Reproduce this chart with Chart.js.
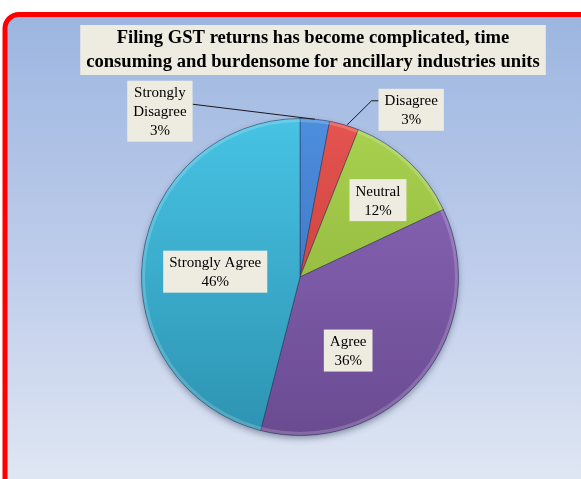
<!DOCTYPE html>
<html>
<head>
<meta charset="utf-8">
<script src="https://cdn.jsdelivr.net/npm/chart.js@4/dist/chart.umd.min.js"></script>
<style>
  body { margin: 0; background: #ffffff; }
  #wrap { width: 581px; height: 479px; }
</style>
</head>
<body>
<div id="wrap"><canvas id="myChart" width="581" height="479"></canvas></div>
<script>
'use strict';

let titleLines = ['Filing GST returns has become complicated, time', 'consuming and burdensome for ancillary industries units'];
let categories = ['Strongly Disagree', 'Disagree', 'Neutral', 'Agree', 'Strongly Agree'];
let percentages = [3, 3, 12, 36, 46];

// light (top) and dark (bottom) shade of each slice
let lightColors = ['#4d8ede', '#e55450', '#a9d24f', '#8d68bb', '#47c3e4'];
let darkColors = ['#3567b0', '#b93731', '#88aa36', '#6a4b91', '#2e93b2'];

// where each label box goes: radius fraction on the mid angle, then a nudge
let labelPlaces = [
    { r: 1.0, dx: -155, dy: -8, lines: ['Strongly', 'Disagree'], leader: 'straight' },
    { r: 1.0, dx: 67, dy: -15, lines: ['Disagree'], leader: 'elbow' },
    { r: 0.7, dx: 2, dy: 4, lines: ['Neutral'] },
    { r: 0.55, dx: -19, dy: 18, lines: ['Agree'] },
    { r: 0.52, dx: -3, dy: 5, lines: ['Strongly Agree'] }
];

function sliceFill(context) {
    let i = context.dataIndex;
    let chart = context.chart;
    let area = chart.chartArea;
    if (!area) {
        return lightColors[i];
    }
    let g = chart.ctx.createLinearGradient(0, area.top, 0, area.bottom);
    g.addColorStop(0, lightColors[i]);
    g.addColorStop(1, darkColors[i]);
    return g;
}

let backgroundPlugin = {
    id: 'frame',
    beforeDraw(chart) {
        let ctx = chart.ctx;
        ctx.save();
        ctx.fillStyle = '#ffffff';
        ctx.fillRect(0, 0, chart.width, chart.height);
        let bg = ctx.createLinearGradient(0, 15, 0, chart.height);
        bg.addColorStop(0, '#9cb6e0');
        bg.addColorStop(0.5, '#bccbea');
        bg.addColorStop(1, '#dfe6f3');
        ctx.beginPath();
        ctx.roundRect(5, 14.5, 620, 480, 14);
        ctx.fillStyle = bg;
        ctx.fill();
        ctx.lineWidth = 5;
        ctx.strokeStyle = '#ff0000';
        ctx.stroke();

        // title box
        ctx.font = 'bold 18.6px "Liberation Serif", "Times New Roman", serif';
        ctx.textAlign = 'center';
        ctx.textBaseline = 'middle';
        let w = 0;
        titleLines.forEach(function (t) { w = Math.max(w, ctx.measureText(t).width); });
        let cx = 313;
        ctx.fillStyle = '#eeece1';
        ctx.fillRect(cx - w / 2 - 6, 25, w + 12, 50);
        ctx.fillStyle = '#000000';
        ctx.fillText(titleLines[0], cx, 38);
        ctx.fillText(titleLines[1], cx, 62);
        ctx.restore();
    },
    beforeDatasetsDraw(chart) {
        let ctx = chart.ctx;
        ctx.save();
        ctx.shadowColor = 'rgba(40, 50, 80, 0.45)';
        ctx.shadowBlur = 6;
        ctx.shadowOffsetY = 3;
        let a = chart.getDatasetMeta(0).data[0];
        ctx.beginPath();
        ctx.arc(a.x, a.y, a.outerRadius, 0, Math.PI * 2);
        ctx.fillStyle = '#7f8fb0';
        ctx.fill();
        ctx.restore();
    },
    afterDatasetsDraw(chart) {
        let ctx = chart.ctx;
        let meta = chart.getDatasetMeta(0);
        ctx.save();
        // soft rim highlight
        let a0 = meta.data[0];
        ctx.beginPath();
        ctx.arc(a0.x, a0.y, a0.outerRadius - 2, 0, Math.PI * 2);
        ctx.strokeStyle = 'rgba(255,255,255,0.18)';
        ctx.lineWidth = 3;
        ctx.stroke();

        ctx.font = '15px "Liberation Serif", "Times New Roman", serif';
        ctx.textAlign = 'center';
        ctx.textBaseline = 'middle';
        let lineH = 19;
        meta.data.forEach(function (arc, i) {
            let p = labelPlaces[i];
            let mid = (arc.startAngle + arc.endAngle) / 2;
            let ax = arc.x + Math.cos(mid) * arc.outerRadius * p.r;
            let ay = arc.y + Math.sin(mid) * arc.outerRadius * p.r;
            let cx = ax + p.dx;
            let cy = ay + p.dy;
            let lines = p.lines.concat([percentages[i] + '%']);
            let w = 0;
            lines.forEach(function (t) { w = Math.max(w, ctx.measureText(t).width); });
            let bw = w + 12;
            let bh = lines.length * lineH + 4;
            let left = cx - bw / 2;
            let top = cy - bh / 2;

            if (p.leader) {
                ctx.beginPath();
                ctx.strokeStyle = '#1a1a1a';
                ctx.lineWidth = 1;
                if (p.leader === 'straight') {
                    ctx.moveTo(left + bw, cy - 7);
                    ctx.lineTo(ax, ay);
                } else {
                    ctx.moveTo(left, top + 12);
                    ctx.lineTo(left - 7, top + 12);
                    ctx.lineTo(ax + 3, ay);
                }
                ctx.stroke();
            }

            ctx.fillStyle = '#eeece1';
            ctx.fillRect(left, top, bw, bh);
            ctx.fillStyle = '#000000';
            lines.forEach(function (t, k) {
                ctx.fillText(t, cx, top + 2 + lineH / 2 + k * lineH + 1);
            });
        });
        ctx.restore();
    }
};

let ctx = document.getElementById('myChart').getContext('2d');
let chart = new Chart(ctx, {
    type: 'pie',
    data: {
        labels: categories,
        datasets: [{
            data: percentages,
            backgroundColor: sliceFill,
            borderColor: 'rgba(30, 40, 70, 0.45)',
            borderWidth: 1
        }]
    },
    options: {
        responsive: false,
        animation: false,
        layout: {
            padding: { top: 118, bottom: 43, left: 141, right: 122 }
        },
        plugins: {
            legend: { display: false },
            tooltip: { enabled: false },
            title: { display: false }
        }
    },
    plugins: [backgroundPlugin]
});
</script>
</body>
</html>
